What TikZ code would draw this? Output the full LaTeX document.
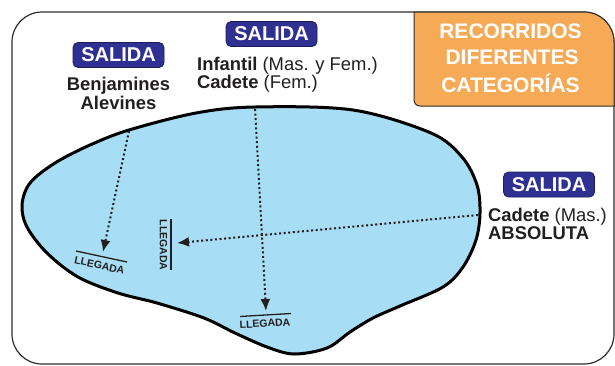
\documentclass[tikz,border=0pt]{standalone}
\usepackage{fontspec}
\setmainfont{Liberation Sans}
\usetikzlibrary{arrows.meta}
\definecolor{navy}{RGB}{46,49,146}
\definecolor{lakeblue}{RGB}{168,222,245}
\definecolor{orng}{RGB}{247,170,85}
\definecolor{ink}{RGB}{35,31,32}
\definecolor{framec}{RGB}{45,45,45}
\tikzset{
  salida/.style={fill=navy, draw=navy!60!black, line width=0.8pt, rounded corners=5pt,
    minimum width=91pt, minimum height=25pt, inner sep=0pt, text=white,
    font=\fontsize{20}{20}\selectfont\bfseries},
  lbl/.style={inner sep=0pt, text=ink, font=\fontsize{18.4}{18}\selectfont},
  ttl/.style={inner sep=0pt, text=white, font=\fontsize{21}{20}\selectfont\bfseries},
  ll/.style={inner sep=0pt, text=ink, font=\fontsize{10.5}{10}\selectfont\bfseries},
  route/.style={ink, line width=2pt, dash pattern=on 2pt off 2.6pt,
    -{Latex[length=12pt,width=10pt]}},
  finish/.style={ink, line width=1.3pt}
}
\begin{document}
\begin{tikzpicture}[x=1pt,y=-1pt]
\useasboundingbox (0,0) rectangle (615,365);
% outer frame
\draw[framec, line width=1.2pt, rounded corners=30pt] (12,12) rectangle (614,364);
% orange title box
\draw[fill=orng, draw=framec, line width=1pt]
  (414,12) -- (584,12) .. controls (600.6,12) and (614,25.4) .. (614,42)
  -- (614,106) -- (420,106) .. controls (416.7,106) and (414,103.3) .. (414,100) -- cycle;
\node[ttl] (t1) at (510.5,31) {RECORRIDOS};
\node[ttl] (t2) at (512,57) {DIFERENTES};
\node[ttl] (t3) at (510.5,83) {CATEGORÍAS};
% lake
\draw[fill=lakeblue, draw=black, line width=3pt]
  plot[smooth cycle, tension=0.55] coordinates {
   (255,107) (353,110) (431,133) (462,157) (477,185) (480,213) (476,240)
   (463,267) (443,287) (400,306) (373,318) (350,332) (327,348) (294,354) (267,347)
   (235,333) (204,318) (157,303) (118,293) (78,277) (47,253) (27,227) (22,205)
   (30,183) (55,163) (90,145) (129,130) (196,113)};
% SALIDA labels
\node[salida] (s1) at (118.5,55) {SALIDA};
\node[salida] (s2) at (271.5,34) {SALIDA};
\node[salida] (s3) at (549,184.5) {SALIDA};
% category texts
\node[lbl, anchor=base] (benj) at (118.5,90) {\bfseries Benjamines};
\node[lbl, anchor=base] (alev) at (118.5,109) {\bfseries Alevines};
\node[lbl, anchor=base west] (inf) at (197,70) {\textbf{Infantil} (Mas. y Fem.)};
\node[lbl, anchor=base west] (cadf) at (197,88) {\textbf{Cadete} (Fem.)};
\node[lbl, anchor=base west] (cadm) at (488,221) {\textbf{Cadete} (Mas.)};
\node[lbl, anchor=base west] (absl) at (488,239) {\bfseries ABSOLUTA};
% start points and finish points
\coordinate (a1) at (129,131);
\coordinate (a2) at (255,109);
\coordinate (a3) at (478,215);
\coordinate (f1) at (103,252);
\coordinate (f2) at (266,311);
\coordinate (f3) at (177,243);
% routes
\draw[route] (a1) -- (f1);
\draw[route] (a2) -- (f2);
\draw[route] (a3) -- (f3);
% finish lines
\coordinate (l1a) at (76,251); \coordinate (l1b) at (127,262);
\coordinate (l2a) at (171,219); \coordinate (l2b) at (171,270);
\coordinate (l3a) at (240,316.5); \coordinate (l3b) at (291,313.5);
\draw[finish] (l1a) -- (l1b);
\draw[finish] (l2a) -- (l2b);
\draw[finish] (l3a) -- (l3b);
\node[ll, rotate=-12.4] (ll1) at (99.5,265.5) {LLEGADA};
\node[ll, rotate=-90] (ll2) at (163.5,245) {LLEGADA};
\node[ll, rotate=3.4] (ll3) at (265,323.5) {LLEGADA};
\end{tikzpicture}
\end{document}
